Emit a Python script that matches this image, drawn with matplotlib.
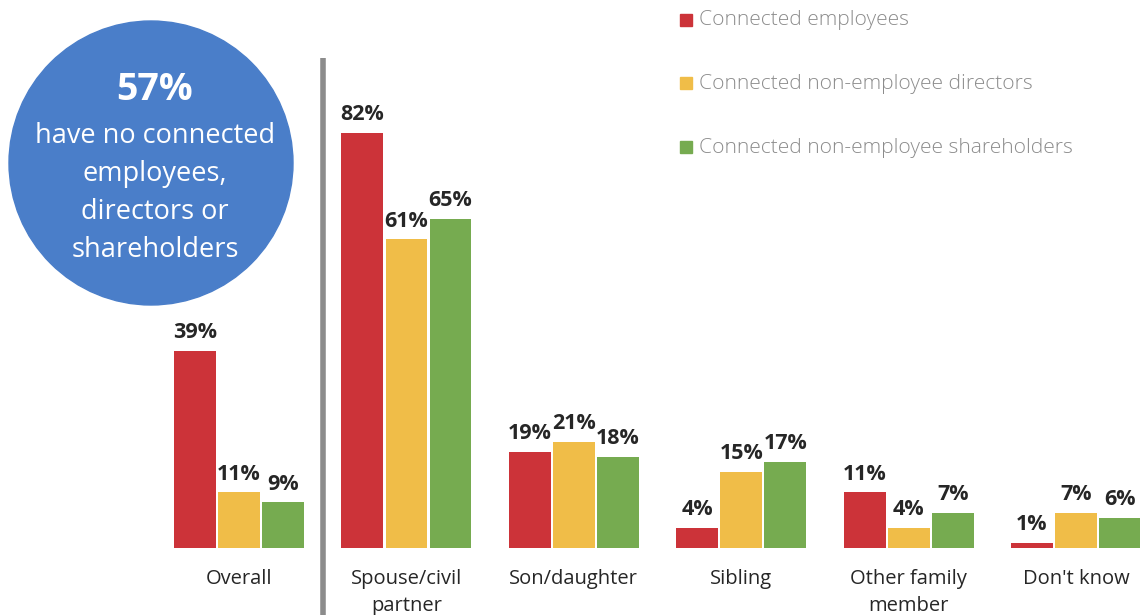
import matplotlib.pyplot as plt
from matplotlib.patches import Circle

plt.rcParams['font.family'] = ['Open Sans', 'DejaVu Sans']

# Data
categories = ['Overall', 'Spouse/civil\npartner', 'Son/daughter', 'Sibling',
              'Other family\nmember', "Don't know"]
employees = [39, 82, 19, 4, 11, 1]
directors = [11, 61, 21, 15, 4, 7]
shareholders = [9, 65, 18, 17, 7, 6]
series_names = ['Connected employees', 'Connected non-employee directors',
                'Connected non-employee shareholders']
colors = ['#CC3339', '#F0BD48', '#76AB50']
headline = '57%'
headline_text = 'have no connected\nemployees,\ndirectors or\nshareholders'

fig = plt.figure(figsize=(11.4, 6.15), dpi=100)
ax = fig.add_axes([0, 0, 1, 1])
ax.set_xlim(-1.428, 5.382)
ax.set_ylim(-13.24, 108.3)
ax.axis('off')

width = 0.25
step = 0.263
x = list(range(len(categories)))
for k, (vals, col) in enumerate(zip([employees, directors, shareholders], colors)):
    xs = [i + (k - 1) * step for i in x]
    ax.bar(xs, vals, width=width, color=col, edgecolor='none', zorder=2)
    for xi, v in zip(xs, vals):
        ax.annotate(f'{v}%', (xi, v), xytext=(0, 5.5), textcoords='offset points',
                    ha='center', va='bottom', fontsize=15.5, fontweight='bold',
                    color='#262626')

# category labels
for i, cat in enumerate(categories):
    ax.text(i, -4.1, cat, ha='center', va='top', fontsize=14.5, color='#262626',
            linespacing=1.48)

# separator between Overall and the breakdown
ax.plot([0.5, 0.5], [-14, 96.8], color='#8C8C8C', lw=4, solid_capstyle='butt')

# legend in the top right
leg_y = [0.967, 0.864, 0.760]
for name, col, yy in zip(series_names, colors, leg_y):
    fig.patches.append(plt.Rectangle((0.5965, yy - 0.0095), 0.0105, 0.0195,
                                     transform=fig.transFigure, color=col))
    fig.text(0.613, yy, name, ha='left', va='center', fontsize=15.1,
             color='#8C8C8C', fontweight='light')

# blue circle callout
circ = Circle((1.51, 6.15 - 1.63), 1.42, transform=fig.dpi_scale_trans,
              color='#4A7EC9', zorder=5)
fig.patches.append(circ)
fig.text(155 / 1140, 1 - 90 / 615, headline, ha='center', va='center',
         fontsize=27, fontweight='bold', color='white', zorder=6)
fig.text(155 / 1140, 1 - 193 / 615, headline_text, ha='center', va='center',
         fontsize=19.5, color='white', linespacing=1.49, zorder=6)

fig.savefig('out.png', dpi=100)
